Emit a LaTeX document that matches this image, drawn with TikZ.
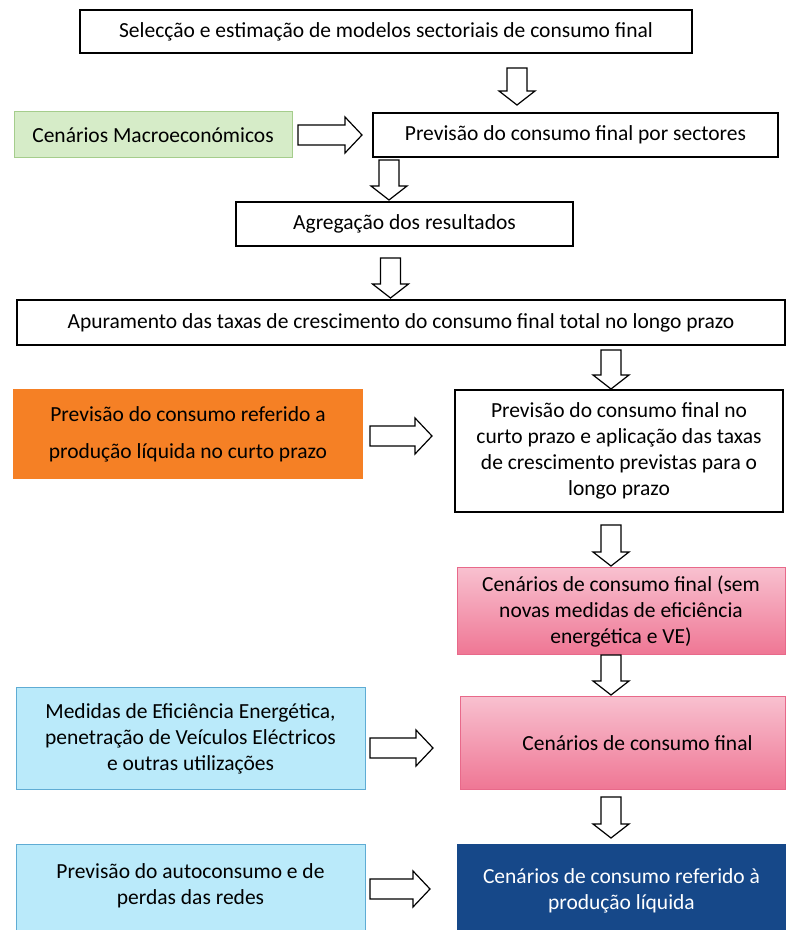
\documentclass[tikz,border=0pt]{standalone}
\usepackage{fontspec}
\setmainfont{Carlito}
\usetikzlibrary{positioning, calc}

\definecolor{macrogreen}{RGB}{214,236,200}
\definecolor{macroline}{RGB}{165,205,140}
\definecolor{liqorange}{RGB}{245,128,37}
\definecolor{pinktop}{RGB}{248,192,207}
\definecolor{pinkbot}{RGB}{239,118,148}
\definecolor{pinkline}{RGB}{232,105,138}
\definecolor{skyfill}{RGB}{186,234,250}
\definecolor{skyline}{RGB}{95,172,212}
\definecolor{navy}{RGB}{22,72,137}

\tikzset{
  hollow/.style={draw, fill=white, line width=1.2pt, line join=miter},
  fat down/.style={to path={let \p1=(\tikztostart), \p2=(\tikztotarget) in
    (\x1-10pt,\y1) -- (\x1-10pt,\y2+14pt) -- (\x1-18pt,\y2+14pt) -- (\x1,\y2)
    -- (\x1+18pt,\y2+14pt) -- (\x1+10pt,\y2+14pt) -- (\x1+10pt,\y1) -- cycle}},
  fat right/.style={to path={let \p1=(\tikztostart), \p2=(\tikztotarget) in
    (\x1,\y1-10pt) -- (\x2-17pt,\y1-10pt) -- (\x2-17pt,\y1-18pt) -- (\x2,\y1)
    -- (\x2-17pt,\y1+18pt) -- (\x2-17pt,\y1+10pt) -- (\x1,\y1+10pt) -- cycle}}
}

\begin{document}
\begin{tikzpicture}[x=1pt, y=1pt, font=\fontsize{21.5}{26}\selectfont,
    box/.style={rectangle, draw, line width=1.5pt, fill=white, align=center, outer sep=0pt, inner sep=3pt},
    macro/.style={box, draw=macroline, line width=1pt, fill=macrogreen},
    orange/.style={box, draw=liqorange, fill=liqorange},
    pink/.style={box, draw=pinkline, line width=1pt, top color=pinktop, bottom color=pinkbot},
    sky/.style={box, draw=skyline, line width=1pt, fill=skyfill},
    navybox/.style={box, draw=navy, fill=navy, text=white}]

    \useasboundingbox (0,0) rectangle (788,930);

    \node[box, minimum width=612pt, minimum height=43pt] (sel) at (386,898.5)
        {Selecção e estimação de modelos sectoriais de consumo final};
    \node[box, minimum width=405pt, minimum height=44pt, below=60pt of sel, xshift=189.5pt] (prevsec)
        {Previsão do consumo final por sectores};
    \node[macro, minimum width=278pt, minimum height=46pt, left=81pt of prevsec] (macro)
        {Cenários Macroeconómicos};
    \node[box, minimum width=337pt, minimum height=44pt, below=45pt of prevsec, xshift=-171pt] (agreg)
        {Agregação dos resultados};
    \node[box, minimum width=768pt, minimum height=45pt, below=54pt of agreg, xshift=-3.5pt] (apur)
        {Apuramento das taxas de crescimento do consumo final total no longo prazo};
    \node[box, minimum width=328pt, minimum height=122pt, below=45pt of apur, xshift=218pt] (curto)
        {Previsão do consumo final no\\curto prazo e aplicação das taxas\\de crescimento previstas para o\\longo prazo};
    \node[orange, minimum width=348pt, minimum height=88pt, left=93pt of curto, yshift=17pt,
        font=\fontsize{21.5}{37}\selectfont] (liq)
        {Previsão do consumo referido a\\produção líquida no curto prazo};
    \node[pink, minimum width=328pt, minimum height=87pt, below=56pt of curto, xshift=2pt] (semmed)
        {Cenários de consumo final (sem\\novas medidas de eficiência\\energética e VE)};
    \node[pink, minimum width=325pt, minimum height=93pt, below=42pt of semmed, xshift=1.5pt] (cenfin)
        {\hspace*{30pt}Cenários de consumo final};
    \node[sky, minimum width=349pt, minimum height=102pt, left=95pt of cenfin, yshift=4.5pt] (medidas)
        {Medidas de Eficiência Energética,\\penetração de Veículos Eléctricos\\e outras utilizações};
    \node[navybox, minimum width=327pt, minimum height=92pt, below=55pt of cenfin, xshift=-1pt] (refliq)
        {Cenários de consumo referido à\\produção líquida};
    \node[sky, minimum width=349pt, minimum height=92pt, left=93pt of refliq, text depth=14pt] (autocons)
        {Previsão do autoconsumo e de\\perdas das redes};

    \draw[hollow] ($(sel.south)+(131,-15)$) to[fat down] ($(prevsec.north)+(0,8)$);
    \draw[hollow] ($(macro.east)+(6,0)$) to[fat right] ($(prevsec.west)+(-11,0)$);
    \draw[hollow] ($(prevsec.south)+(-186.5,-3)$) to[fat down] ($(agreg.north)+(0,2)$);
    \draw[hollow] ($(agreg.south)+(-14,-12)$) to[fat down] ($(apur.north)+(0,2)$);
    \draw[hollow] ($(apur.south)+(210,-5)$) to[fat down] ($(curto.north)+(0,1)$);
    \draw[hollow] ($(liq.east)+(8,-2)$) to[fat right] ($(curto.west)+(-23,0)$);
    \draw[hollow] ($(curto.south)+(-8,-13)$) to[fat down] ($(semmed.north)+(0,2)$);
    \draw[hollow] ($(semmed.south)+(-10,0)$) to[fat down] ($(cenfin.north)+(0,2)$);
    \draw[hollow] ($(medidas.east)+(5,-9)$) to[fat right] ($(cenfin.west)+(-27,0)$);
    \draw[hollow] ($(cenfin.south)+(-11.5,-7)$) to[fat down] ($(refliq.north)+(0,7)$);
    \draw[hollow] ($(autocons.east)+(5,2)$) to[fat right] ($(refliq.west)+(-28,0)$);
\end{tikzpicture}
\end{document}
